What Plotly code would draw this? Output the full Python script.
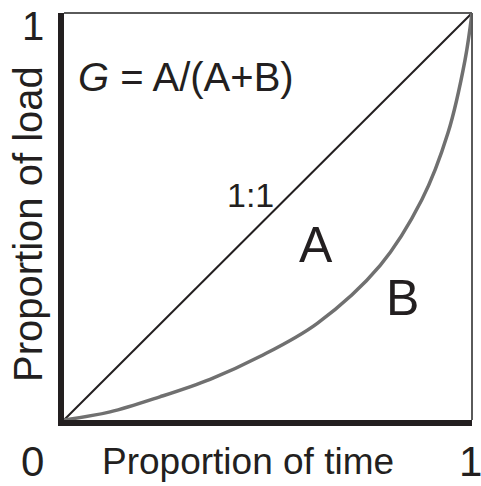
import plotly.graph_objects as go

# Data
time_prop = [0.0, 0.113, 0.235, 0.358, 0.480, 0.620, 0.775, 0.877, 0.941, 0.983, 1.0]
load_prop = [0.0, 0.020, 0.057, 0.100, 0.156, 0.237, 0.380, 0.541, 0.705, 0.885, 1.0]
diag_x = [0, 1]
diag_y = [0, 1]

W, H = 481, 486
L, R, T, B = 64, 9, 13, 66
PW, PH = W - L - R, H - T - B
FONT = "Liberation Sans, Arial, sans-serif"
INK = "#231f20"


def px(x):
    return (x - L) / PW


def py(y):
    return (H - B - y) / PH


fig = go.Figure()
fig.add_trace(go.Scatter(x=diag_x, y=diag_y, mode="lines",
                         line=dict(color=INK, width=2), hoverinfo="skip"))
fig.add_trace(go.Scatter(x=time_prop, y=load_prop, mode="lines",
                         line=dict(color="#707070", width=3.5, shape="spline", smoothing=1.0),
                         hoverinfo="skip"))

axis_common = dict(range=[0, 1], showgrid=False, zeroline=False, showticklabels=False,
                   ticks="", showline=True, linecolor=INK, linewidth=6, fixedrange=True)
fig.update_xaxes(**axis_common)
fig.update_yaxes(**axis_common)

fig.add_shape(type="line", xref="paper", yref="paper", x0=0, y0=1, x1=1, y1=1,
              line=dict(color="#5a5a5a", width=2))
fig.add_shape(type="line", xref="paper", yref="paper", x0=1, y0=0, x1=1, y1=1,
              line=dict(color="#5a5a5a", width=2))


def ann(text, x, y, size, angle=0):
    fig.add_annotation(text=text, x=px(x), y=py(y), xref="paper", yref="paper",
                       showarrow=False, xanchor="center", yanchor="middle",
                       textangle=angle, font=dict(family=FONT, size=size, color=INK))


ann("0", 32, 461, 42)
ann("1", 470, 461, 42)
ann("1", 33, 26, 40)
ann("Proportion of time", 248, 461, 37)
ann("Proportion of load", 28, 224, 40, angle=-90)
ann("<i>G</i> = A/(A+B)", 186, 77, 40)
ann("1:1", 250, 195, 34)
ann("A", 316, 245, 50)
ann("B", 402, 298, 50)

fig.update_layout(width=W, height=H, margin=dict(l=L, r=R, t=T, b=B),
                  paper_bgcolor="white", plot_bgcolor="white", showlegend=False,
                  hovermode=False)

fig.write_html("out.html", config={"displayModeBar": False, "staticPlot": True},
               post_script="document.body.style.margin='0';")
